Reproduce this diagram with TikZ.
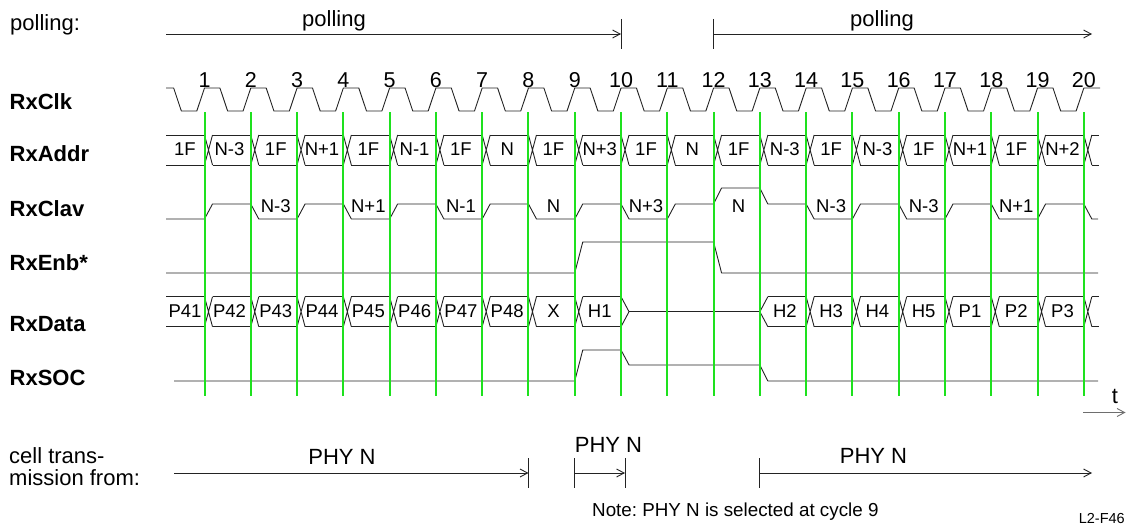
\documentclass[tikz,border=0pt]{standalone}
\usepackage{fontspec}
\setmainfont{Liberation Sans}
\usetikzlibrary{arrows.meta}
\definecolor{grn}{RGB}{30,225,30}
\definecolor{ink}{RGB}{35,35,35}
\definecolor{gry}{RGB}{110,110,110}
\frenchspacing
\begin{document}
\begin{tikzpicture}[x=1pt,y=-1pt,
  sig/.style={draw=ink,line width=0.9pt,line join=round},
  gridline/.style={draw=grn,line width=2pt},
  lbl/.style={font=\fontsize{22}{26}\selectfont\bfseries,anchor=base west,inner sep=0pt},
  txt/.style={font=\fontsize{22}{26}\selectfont,anchor=base,inner sep=0pt},
  buslbl/.style={font=\fontsize{18.5}{22}\selectfont,anchor=base,inner sep=0pt},
  num/.style={font=\fontsize{21.5}{24}\selectfont,anchor=base,inner sep=0pt},
  arr/.style={draw=ink,line width=0.9pt,-{Straight Barb[length=7.5pt,width=8pt]}},
  bar/.style={draw=ink,line width=0.9pt},
]
\useasboundingbox (0,0) rectangle (1126,527);
% cycle numbers
\foreach \k in {1,...,20} {
  \pgfmathsetmacro\gx{158.22+46.28*\k}
  \node[num] (n\k) at (\gx,87) {\k};
}
% ---------- polling ----------
\node[txt,anchor=base west] (pl) at (10,31) {polling:};
\node[txt] (p1) at (334,27) {polling};
\node[txt] (p2) at (882,27) {polling};
\coordinate (pa1) at (166,34);
\coordinate (pa2) at (621.02,34);
\coordinate (pb1) at (713.58,34);
\coordinate (pb2) at (1092,34);
\draw[arr] (pa1) -- (pa2);
\draw[bar] (621.02,19) -- (621.02,49);
\draw[arr] (pb1) -- (pb2);
\draw[bar] (713.58,19) -- (713.58,49);
% ---------- signal names ----------
\node[lbl] (lclk) at (9.5,109.5) {RxClk};
\node[lbl] (laddr) at (9.5,161.5) {RxAddr};
\node[lbl] (lclav) at (9.5,216.5) {RxClav};
\node[lbl] (lenb) at (9.5,270.5) {RxEnb*};
\node[lbl] (ldata) at (9.5,331.5) {RxData};
\node[lbl] (lsoc) at (9.5,385) {RxSOC};
% ---------- RxClk ----------
\draw[sig] (166,88) \foreach \k in {0,...,19} {
  -- ({158.22+46.28*\k+15.43},88) -- ({158.22+46.28*\k+23.14},111)
  -- ({158.22+46.28*\k+38.57},111) -- ({158.22+46.28*(\k+1)},88) } -- (1100,88);
% ---------- RxAddr ----------
\draw[sig] (166,135) -- (204.5,135) (166,165) -- (204.5,165);
\foreach \k in {1,...,20} {
  \pgfmathsetmacro\gx{158.22+46.28*\k}
  \pgfmathsetmacro\gn{158.22+46.28*(\k+1)}
  \draw[sig] (\gx,135) -- ({\gx+8},165) (\gx,165) -- ({\gx+8},135);
  \ifnum\k<20
    \draw[sig] ({\gx+8},135) -- (\gn,135) ({\gx+8},165) -- (\gn,165);
  \fi
}
\draw[sig] (1091.82,135) -- (1099,135) (1091.82,165) -- (1099,165);
\foreach \t [count=\i from 0] in {1F,N-3,1F,N+1,1F,N-1,1F,N,1F,N+3,1F,N,1F,N-3,1F,N-3,1F,N+1,1F,N+2} {
  \pgfmathsetmacro\cx{\i==0 ? 185 : 158.22+46.28*\i+25}
  \node[buslbl] (a\i) at (\cx,155.5) {\t};
}
% ---------- RxClav ----------
\draw[sig] (166,219) -- (204.5,219) -- (212.5,204) -- (250.78,204) -- (258.78,219)
  -- (297.06,219) -- (305.06,204) -- (343.34,204) -- (351.34,219) -- (389.62,219)
  -- (397.62,204) -- (435.9,204) -- (443.9,219) -- (482.18,219) -- (490.18,204)
  -- (528.46,204) -- (536.46,219) -- (574.74,219) -- (582.74,204) -- (621.02,204)
  -- (629.02,219) -- (667.3,219) -- (675.3,204) -- (713.58,204) -- (721.58,188)
  -- (759.86,188) -- (767.86,204) -- (806.14,204) -- (814.14,219) -- (852.42,219)
  -- (860.42,204) -- (898.7,204) -- (906.7,219) -- (944.98,219) -- (952.98,204)
  -- (991.26,204) -- (999.26,219) -- (1037.54,219) -- (1045.54,204) -- (1083.82,204)
  -- (1091.82,219) -- (1098,219);
\foreach \i/\t in {2/N-3,4/N+1,6/N-1,8/N,10/N+3,12/N,14/N-3,16/N-3,18/N+1} {
  \pgfmathsetmacro\cx{158.22+46.28*\i+25}
  \node[buslbl] (c\i) at (\cx,212) {\t};
}
% ---------- RxEnb* ----------
\draw[sig] (166,273) -- (574.74,273) -- (582.74,242) -- (713.58,242) -- (721.58,273) -- (1098,273);
% ---------- RxData ----------
\draw[sig] (166,296.7) -- (204.5,296.7) (166,326.7) -- (204.5,326.7);
\foreach \k in {1,...,9,14,15,16,17,18,19,20} {
  \pgfmathsetmacro\gx{158.22+46.28*\k}
  \draw[sig] (\gx,296.7) -- ({\gx+8},326.7) (\gx,326.7) -- ({\gx+8},296.7);
}
\foreach \k in {1,...,9,13,14,15,16,17,18,19} {
  \pgfmathsetmacro\gx{158.22+46.28*\k}
  \pgfmathsetmacro\gn{158.22+46.28*(\k+1)}
  \draw[sig] ({\gx+8},296.7) -- (\gn,296.7) ({\gx+8},326.7) -- (\gn,326.7);
}
\draw[sig] (621.02,296.7) -- (629.02,311.7) -- (621.02,326.7);
\draw[sig] (629.02,311.7) -- (759.86,311.7);
\draw[sig] (767.86,296.7) -- (759.86,311.7) -- (767.86,326.7);
\draw[sig] (1091.82,296.7) -- (1099,296.7) (1091.82,326.7) -- (1099,326.7);
\foreach \i/\t in {0/P41,1/P42,2/P43,3/P44,4/P45,5/P46,6/P47,7/P48,8/X,9/H1,13/H2,14/H3,15/H4,16/H5,17/P1,18/P2,19/P3} {
  \pgfmathsetmacro\cx{\i==0 ? 185 : 158.22+46.28*\i+25}
  \node[buslbl] (d\i) at (\cx,317) {\t};
}
% ---------- RxSOC ----------
\draw[sig] (174,381) -- (574.74,381) -- (582.74,350) -- (621.02,350) -- (629.02,365)
  -- (759.86,365) -- (767.86,381) -- (1098,381);
% green cycle lines on top
\foreach \k in {1,...,20} {
  \pgfmathsetmacro\gx{158.22+46.28*\k}
  \draw[gridline] (\gx,112) -- (\gx,396);
}
% ---------- time axis ----------
\node[txt] (tl) at (1115,403.5) {t};
\coordinate (t1) at (1083,412.5);
\coordinate (t2) at (1125.5,412.5);
\draw[arr,draw=gry] (t1) -- (t2);
% ---------- cell transmission ----------
\node[txt,anchor=base west,align=left] (ct1) at (9,463.3) {cell trans-};
\node[txt,anchor=base west,align=left] (ct2) at (9,485.7) {mission from:};
\node[txt] (ph1) at (342,464) {PHY N};
\node[txt] (ph2) at (608.5,452.3) {PHY N};
\node[txt] (ph3) at (873.5,463.3) {PHY N};
\coordinate (c1a) at (174,473);
\coordinate (c1b) at (528.46,473);
\coordinate (c2a) at (574.74,473);
\coordinate (c2b) at (625,473);
\coordinate (c3a) at (759.86,473);
\coordinate (c3b) at (1092,473);
\draw[arr] (c1a) -- (c1b);
\draw[bar] (528.46,458) -- (528.46,488);
\draw[bar] (574.74,458) -- (574.74,488);
\draw[arr] (c2a) -- (c2b);
\draw[bar] (625,458) -- (625,488);
\draw[bar] (759.86,458) -- (759.86,488);
\draw[arr] (c3a) -- (c3b);
\node[font=\fontsize{18.8}{22}\selectfont,anchor=base west,inner sep=0pt] (note) at (592,516) {Note: PHY N is selected at cycle 9};
\node[font=\fontsize{14.5}{17}\selectfont,anchor=base east,inner sep=0pt] (fig) at (1125,523) {L2-F46};
\end{tikzpicture}
\end{document}
